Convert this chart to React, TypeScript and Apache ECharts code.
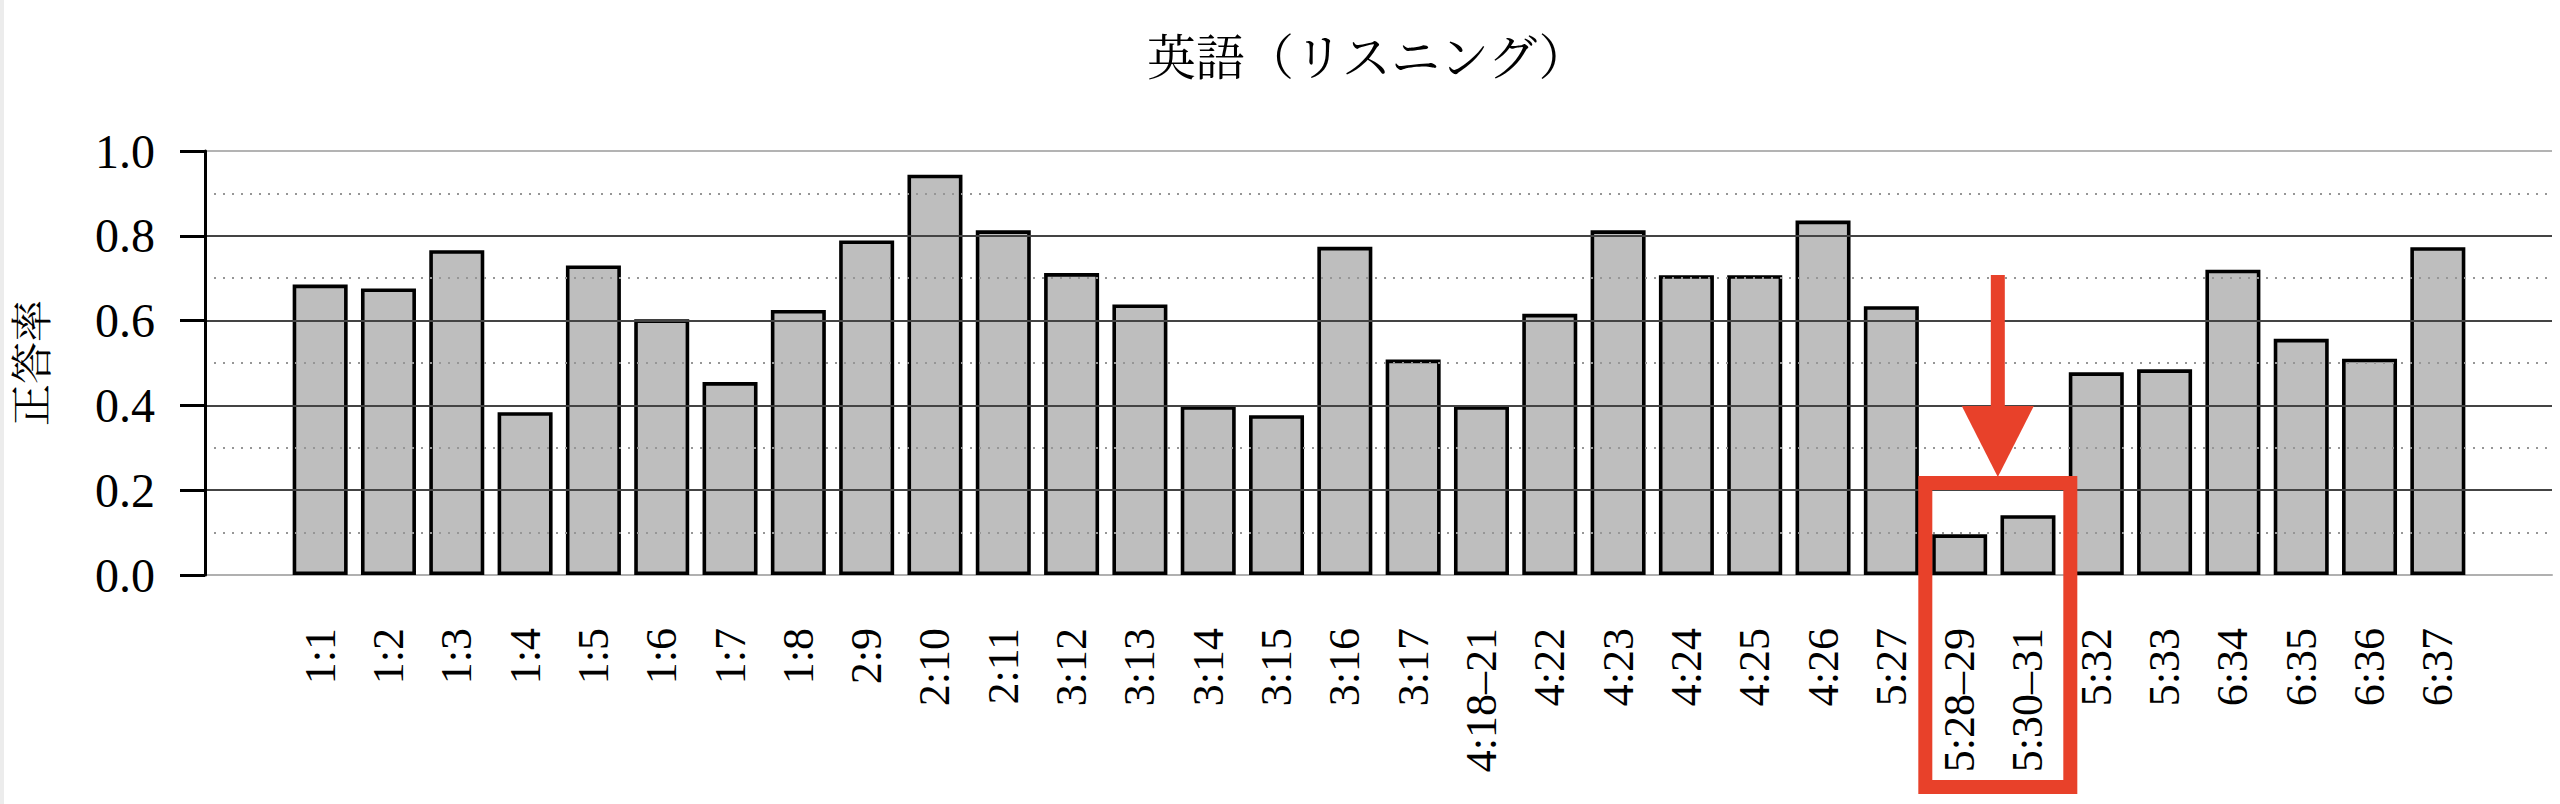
import React, { useEffect, useRef } from 'react';
import * as echarts from 'echarts';

const TITLE = '英語（リスニング）';
const Y_NAME = '正答率';
const categories = [
  '1:1', '1:2', '1:3', '1:4', '1:5', '1:6', '1:7', '1:8',
  '2:9', '2:10', '2:11',
  '3:12', '3:13', '3:14', '3:15', '3:16', '3:17',
  '4:18–21', '4:22', '4:23', '4:24', '4:25', '4:26',
  '5:27', '5:28–29', '5:30–31', '5:32', '5:33',
  '6:34', '6:35', '6:36', '6:37',
];
const values = [
  0.685, 0.676, 0.766, 0.384, 0.730, 0.603, 0.455, 0.625,
  0.789, 0.944, 0.813,
  0.712, 0.638, 0.398, 0.377, 0.774, 0.508,
  0.398, 0.616, 0.813, 0.707, 0.707, 0.836,
  0.634, 0.096, 0.141, 0.478, 0.485,
  0.720, 0.557, 0.510, 0.773,
];
const Y_MIN = 0;
const Y_MAX = 1;
const Y_INTERVAL = 0.2;
const highlighted = ['5:28–29', '5:30–31'];

const RED = '#E8412A';
const SERIF = "'Liberation Serif', 'DejaVu Serif', serif";
const CJK = "'Noto Serif CJK JP', 'Noto Sans CJK JP', sans-serif";

export default function App() {
  const ref = useRef<HTMLDivElement>(null);

  useEffect(() => {
    document.body.style.margin = '0';
    const el = ref.current;
    if (!el) return;
    const chart = echarts.init(el, undefined, { renderer: 'svg' });

    const gridTop = 151;
    const gridBottom = 229;

    chart.setOption({
      animation: false,
      backgroundColor: '#ffffff',
      title: {
        text: TITLE,
        left: 1142,
        top: 24,
        textStyle: { fontSize: 49, fontWeight: 'normal', color: '#000', fontFamily: CJK },
      },
      grid: [
        { left: 203, right: 8, top: gridTop, bottom: gridBottom },
        { left: 286, right: 88, top: gridTop, bottom: gridBottom },
      ],
      xAxis: [
        {
          type: 'value',
          gridIndex: 0,
          min: 0,
          max: 1,
          axisLine: { show: true, onZero: false, lineStyle: { color: '#b0b0b0', width: 2 } },
          axisTick: { show: false },
          axisLabel: { show: false },
          splitLine: { show: false },
        },
        {
          type: 'category',
          gridIndex: 1,
          data: categories,
          axisLine: { show: false },
          axisTick: { show: false },
          axisLabel: {
            interval: 0,
            rotate: 90,
            margin: 53,
            fontSize: 44,
            fontFamily: SERIF,
            color: '#000',
          },
          splitLine: { show: false },
        },
      ],
      yAxis: [
        {
          type: 'value',
          gridIndex: 0,
          min: Y_MIN,
          max: Y_MAX,
          interval: Y_INTERVAL,
          z: 5,
          name: Y_NAME,
          nameLocation: 'middle',
          nameGap: 155,
          nameRotate: 90,
          nameTextStyle: { fontSize: 42, color: '#000', fontFamily: CJK },
          axisLine: { show: true, lineStyle: { color: '#000', width: 3 } },
          axisTick: { show: true, length: 25, lineStyle: { color: '#000', width: 3 } },
          axisLabel: {
            fontSize: 48,
            fontFamily: SERIF,
            color: '#000',
            margin: 50,
            formatter: (v: number) => v.toFixed(1),
          },
          splitLine: {
            show: true,
            lineStyle: {
              color: ['transparent', '#444444', '#444444', '#444444', '#444444', '#b3b3b3'],
              width: 2,
            },
          },
          minorTick: { show: false, splitNumber: 2 },
          minorSplitLine: { show: true, lineStyle: { color: '#969696', width: 2, type: [2, 7] } },
        },
        {
          type: 'value',
          gridIndex: 1,
          min: Y_MIN,
          max: Y_MAX,
          show: false,
          splitLine: { show: false },
        },
      ],
      series: [
        {
          type: 'bar',
          xAxisIndex: 1,
          yAxisIndex: 1,
          data: values,
          barWidth: 55,
          itemStyle: { color: '#bebebe', borderColor: '#000', borderWidth: 3.6 },
          z: 2,
        },
      ],
    });

    const xa = chart.convertToPixel({ xAxisIndex: 1 }, highlighted[0]) as number;
    const xb = chart.convertToPixel({ xAxisIndex: 1 }, highlighted[1]) as number;
    const cx = (xa + xb) / 2 + 4;
    const sw = 14;
    const rectTop = 483;
    const rectBottom = 787;
    const halfW = 72.5;
    const shaftTop = 275;
    const headTop = 406;
    const headBottom = 477;

    chart.setOption({
      graphic: [
        { type: 'rect', left: 0, top: 0, shape: { x: 0, y: 0, width: 4, height: 804 }, style: { fill: '#ececec' }, silent: true },
        {
          type: 'rect',
          shape: { x: cx - halfW, y: rectTop, width: halfW * 2, height: rectBottom - rectTop },
          style: { fill: 'none', stroke: RED, lineWidth: sw },
          z: 100,
        },
        {
          type: 'rect',
          shape: { x: cx - 7, y: shaftTop, width: 14, height: headTop - shaftTop + 2 },
          style: { fill: RED },
          z: 100,
        },
        {
          type: 'polygon',
          shape: { points: [[cx - 36, headTop], [cx + 36, headTop], [cx, headBottom]] },
          style: { fill: RED },
          z: 100,
        },
      ],
    });

    return () => chart.dispose();
  }, []);

  return <div ref={ref} style={{ position: 'absolute', left: 0, top: 0, width: 2560, height: 804 }} />;
}
